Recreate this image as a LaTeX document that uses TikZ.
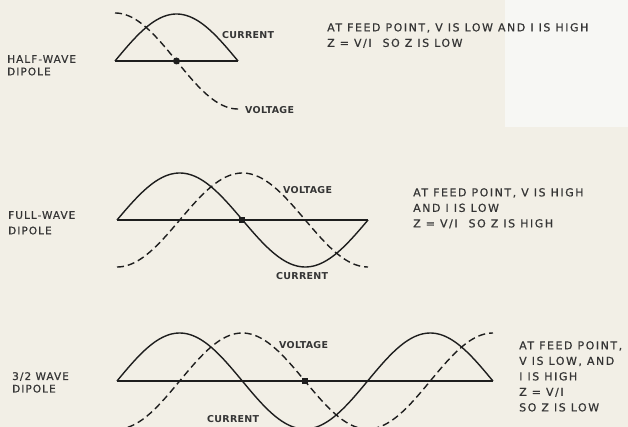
\documentclass[tikz,border=0pt]{standalone}
\usepackage{fontspec}
\newfontfamily\namefont[LetterSpace=10,FakeBold=0.6]{DejaVu Sans}
\newfontfamily\notefont[LetterSpace=14,FakeBold=0.6]{DejaVu Sans}
\newfontfamily\curvefont[LetterSpace=3]{DejaVu Sans Bold}
\definecolor{paper}{RGB}{242,239,230}
\definecolor{paperlight}{RGB}{247,247,244}
\definecolor{ink}{RGB}{30,30,30}
\begin{document}
\begin{tikzpicture}[x=1pt, y=-1pt,
  curr/.style={ink, line width=1.4pt},
  volt/.style={ink, line width=1.4pt, dash pattern=on 7pt off 4pt},
  lbl/.style={anchor=north west, inner sep=0pt, align=left, text=ink!90,
    font=\namefont\fontsize{10.5}{15.5}\selectfont},
  note/.style={lbl, font=\notefont\fontsize{11}{15.5}\selectfont},
  tag/.style={lbl, font=\curvefont\fontsize{9.5}{12}\selectfont}]
  % 0. 背景
  \fill[paper] (0,0) rectangle (628,427);
  \fill[paperlight] (505,0) rectangle (628,127);
  \useasboundingbox (0,0) rectangle (628,427);
  \clip (0,0) rectangle (628,427);

  % 1. 半波偶极子
  \draw[curr] (115,61) -- (238,61);
  \draw[curr, domain=115:238, samples=60] plot (\x, {61-47*sin((\x-115)/123*180)});
  \draw[volt, domain=115:238, samples=60] plot (\x, {61-48*cos((\x-115)/123*180)}) -- (242,109);
  \fill[ink] (176.5,61) circle (3.5pt);
  \node[lbl] (halfname) at (7,55) {HALF-WAVE\\[-3pt]DIPOLE};
  \node[tag] (halfcur) at (222,31) {CURRENT};
  \node[tag] (halfvolt) at (245,106) {VOLTAGE};
  \node[note] (halfnote) at (327,23) {AT FEED POINT, V IS LOW AND I IS HIGH\\Z = V/I\quad SO Z IS LOW};

  % 2. 全波偶极子
  \draw[curr] (117,220) -- (368,220);
  \draw[curr, domain=117:368, samples=100] plot (\x, {220-47*sin((\x-117)/125.5*180)});
  \draw[volt, domain=117:368, samples=100] plot (\x, {220+47*cos((\x-117)/125.5*180)});
  \fill[ink] (239,217) rectangle (245,223);
  \node[lbl] (fullname) at (8,211) {FULL-WAVE\\DIPOLE};
  \node[tag] (fullvolt) at (283,186) {VOLTAGE};
  \node[tag] (fullcur) at (276,272) {CURRENT};
  \node[note] (fullnote) at (413,188) {AT FEED POINT, V IS HIGH\\AND I IS LOW\\Z = V/I\quad SO Z IS HIGH};

  % 3. 3/2 波偶极子
  \draw[curr] (117,381) -- (493,381);
  \draw[curr, domain=117:493, samples=150] plot (\x, {381-48*sin((\x-117)/125.3*180)});
  \draw[volt, domain=117:493, samples=150] plot (\x, {381+48*cos((\x-117)/125.3*180)});
  \fill[ink] (302,378) rectangle (308,384);
  \node[lbl] (threename) at (12,372) {3/2 WAVE\\[-3pt]DIPOLE};
  \node[tag] (threevolt) at (279,341) {VOLTAGE};
  \node[tag] (threecur) at (207,415) {CURRENT};
  \node[note] (threenote) at (519,341) {AT FEED POINT,\\V IS LOW, AND\\I IS HIGH\\Z = V/I\\SO Z IS LOW};
\end{tikzpicture}
\end{document}
